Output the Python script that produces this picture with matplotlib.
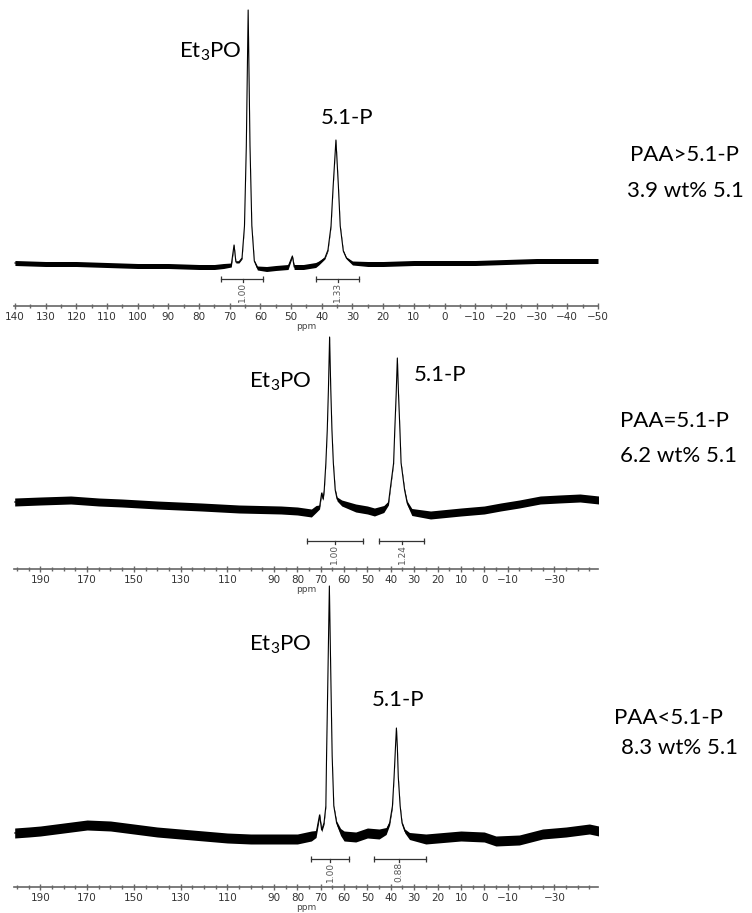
import matplotlib
matplotlib.use("Agg")
import matplotlib.pyplot as plt
from matplotlib.ticker import FixedLocator, MultipleLocator

plt.rcParams['font.family'] = ['DejaVu Sans']
plt.rcParams['mathtext.fontset'] = 'custom'
plt.rcParams['mathtext.rm'] = 'Lato'
plt.rcParams['mathtext.default'] = 'regular'

# ---- spectra (ppm, intensity above axis, noise half-width) ----
ppm1 = [140, 130, 120, 110, 100, 90, 80, 75, 72, 69.5,
        68.6, 68.0, 67, 66, 65.2, 64.6, 64.0, 63.4, 62.8, 62,
        61, 58, 55, 51, 49.6, 49.0, 46, 42, 41, 39,
        38, 37, 36.3, 35.4, 34.6, 34, 33, 32, 30, 25,
        20, 10, 0, -10, -20, -30, -40, -50]
int1 = [43, 42, 42, 41, 40, 40, 39, 39, 40, 41,
        61, 44, 44, 48, 80, 160, 296, 160, 80, 45,
        38, 37, 38, 39, 50, 39, 39, 41, 43, 48,
        56, 80, 120, 166, 120, 80, 55, 48, 43, 42,
        42, 43, 43, 43, 44, 45, 45, 45]
noise1 = [2.5, 2.5, 2.5, 2.5, 2.5, 2.5, 2.5, 2.5, 2.5, 2,
          1, 1, 1, 1, 1, 1, 1, 1, 1, 1,
          2, 2.5, 2.5, 2.5, 1, 2.5, 2.5, 2.5, 2, 1,
          1, 1, 1, 1, 1, 1, 1, 1, 2, 2.5,
          2.5, 2.5, 2.5, 2.5, 2.5, 2.5, 2.5, 2.5]

ppm2 = [201, 190, 177, 165, 155, 140, 121, 105, 87, 80,
        74, 72, 70.5, 69.6, 69.0, 68.5, 67.8, 67.2, 66.7, 66.2,
        65.7, 65.2, 64.6, 63.8, 63, 61, 55, 50, 47, 43,
        41, 40.3, 38.8, 38.3, 37.7, 37.2, 36.7, 36.1, 35.6, 34.1,
        33, 31, 23, 10, 0, -7, -15, -24, -32, -41,
        -49]
int2 = [67, 68, 69, 67, 66, 64, 62, 60, 59, 58,
        56, 60, 62, 76, 70, 79, 106, 139, 180, 232,
        180, 139, 106, 79, 70, 66, 61, 59, 57, 60,
        66, 79, 106, 139, 175, 211, 175, 139, 106, 79,
        66, 57, 54, 57, 59, 62, 65, 69, 70, 71,
        69]
noise2 = [4, 4, 4, 4, 4, 4, 4, 4, 4, 4,
          4, 3.5, 2, 1.5, 1.5, 1.5, 1, 1, 1, 1,
          1, 1, 1, 1.5, 2, 3, 4, 4, 4, 3.5,
          2, 1.5, 1, 1, 1, 1, 1, 1, 1, 1.5,
          2, 3.5, 4, 4, 4, 4, 4, 4, 4, 4,
          4]

ppm3 = [201, 195, 190, 180, 170, 160, 150, 140, 130, 120,
        110, 100, 90, 80, 74, 72, 70.5, 69.6, 68.6, 67.8,
        67.5, 67.0, 66.3, 65.6, 65.1, 64.4, 63.2, 61.5, 60, 55,
        50, 45, 44, 42, 40.5, 39.3, 38.6, 38.0, 37.6, 37.2,
        36.8, 36.0, 35.2, 34, 32, 25, 10, 0, -5, -15,
        -25, -35, -45, -49]
int3 = [54, 55, 56, 59, 62, 61, 58, 55, 53, 51,
        49, 48, 48, 48, 51, 53, 72, 57, 64, 81,
        131, 200, 301, 200, 131, 81, 64, 55, 51, 50,
        54, 53, 54, 56, 64, 81, 110, 140, 159, 140,
        110, 81, 64, 56, 51, 48, 51, 50, 46, 47,
        53, 55, 58, 56]
noise3 = [5, 5, 5, 5, 5, 5, 5, 5, 5, 5,
          5, 5, 5, 5, 5, 3.5, 2, 2, 1.5, 1,
          1, 1, 1, 1, 1, 1, 2, 3.5, 5, 5,
          5, 5, 4.5, 3.5, 2, 1.5, 1, 1, 1, 1,
          1, 1, 1.5, 2, 3.5, 5, 5, 5, 5, 5,
          5, 5, 5, 5]

# integral regions: (from ppm, to ppm, label ppm, value)
integrals1 = [(73, 59, 65.8, '1.00'), (42, 28, 34.8, '1.33')]
integrals2 = [(75.7, 51.7, 64.0, '1.00'), (45, 26, 35.0, '1.24')]
integrals3 = [(74.3, 58, 66.0, '1.00'), (47.4, 25, 36.4, '0.88')]

ticks1 = list(range(140, -51, -10))
ticks23 = [190, 170, 150, 130, 110, 90, 80, 70, 60, 50, 40, 30, 20, 10, 0, -10, -30]

samples = [('PAA>5.1-P', '3.9 wt% 5.1'),
           ('PAA=5.1-P', '6.2 wt% 5.1'),
           ('PAA<5.1-P', '8.3 wt% 5.1')]

W, H = 752, 913
fig = plt.figure(figsize=(W / 100, H / 100), dpi=100)


def px_axes(left, top, right, bottom):
    return fig.add_axes([left / W, 1 - bottom / H, (right - left) / W, (bottom - top) / H])


def draw_panel(ax, ppm, inten, noise, xlim, ylim_top, ticks, integrals, bar_y):
    lo = [a - b for a, b in zip(inten, noise)]
    hi = [a + b for a, b in zip(inten, noise)]
    ax.fill_between(ppm, lo, hi, color='black', lw=0)
    ax.plot(ppm, inten, color='black', lw=0.8)
    ax.set_xlim(*xlim)
    ax.set_ylim(0, ylim_top)
    ax.patch.set_alpha(0)
    for s in ['top', 'left', 'right']:
        ax.spines[s].set_visible(False)
    ax.spines['bottom'].set_color('#666666')
    ax.spines['bottom'].set_linewidth(1.2)
    ax.set_yticks([])
    ax.xaxis.set_major_locator(FixedLocator(ticks))
    ax.xaxis.set_minor_locator(MultipleLocator(5))
    ax.tick_params(axis='x', which='major', direction='inout', length=5, width=1,
                   color='#666666', labelsize=7.5, labelcolor='#333333', pad=1.5)
    ax.tick_params(axis='x', which='minor', direction='inout', length=3, width=1,
                   color='#666666')
    ax.set_xlabel('ppm', fontsize=6.5, color='#444444', labelpad=0)
    for start, end, lp, val in integrals:
        ax.plot([start, end], [bar_y, bar_y], color='#333333', lw=0.9)
        ax.plot([start, end], [bar_y, bar_y], ls='none', marker='|', ms=4,
                mew=0.9, color='#333333')
        ax.plot([lp, lp], [bar_y, bar_y - 3], color='#333333', lw=0.9)
        ax.text(lp, bar_y - 3, val, rotation=90, ha='center', va='top',
                fontsize=6.5, color='#555555')


ax1 = px_axes(14, 0, 598, 306)
draw_panel(ax1, ppm1, int1, noise1, (140.3, -50), 306, ticks1, integrals1, 27)
ax2 = px_axes(14, 330, 598, 569)
draw_panel(ax2, ppm2, int2, noise2, (201.3, -48.7), 239, ticks23, integrals2, 28)
ax3 = px_axes(14, 581, 598, 887)
draw_panel(ax3, ppm3, int3, noise3, (201.3, -48.7), 306, ticks23, integrals3, 28)


def label(x, y, s, ha='center'):
    fig.text(x / W, 1 - y / H, s, ha=ha, va='center', fontsize=16, family='Lato')


label(210, 52, 'Et$_{3}$PO')
label(347, 118, '5.1-P')
label(280, 382, 'Et$_{3}$PO')
label(440, 375, '5.1-P')
label(280, 645, 'Et$_{3}$PO')
label(398, 700, '5.1-P')

right_pos = [(630, 155, 627, 191), (620, 421, 620, 456), (614, 718, 621, 748)]
for (top, bottom), (x1, y1, x2, y2) in zip(samples, right_pos):
    label(x1, y1, top, ha='left')
    label(x2, y2, bottom, ha='left')

fig.savefig('out.png', dpi=100)
